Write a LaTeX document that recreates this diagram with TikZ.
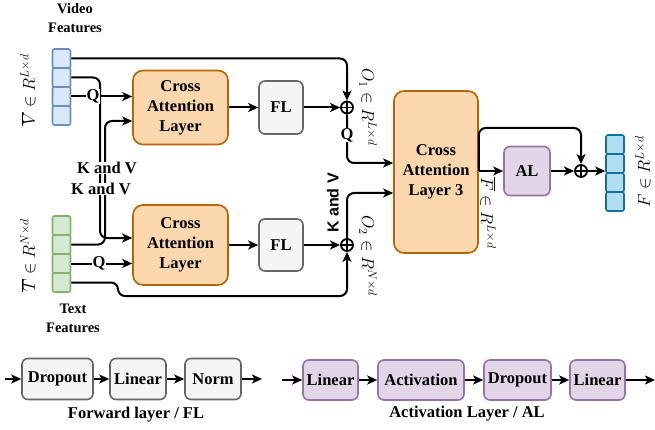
\documentclass[tikz,border=0pt]{standalone}
\usepackage{fontspec}
\setmainfont{Liberation Serif}
\newfontfamily\sanslabel{Liberation Sans}
\usetikzlibrary{arrows.meta,calc}

\definecolor{orfill}{HTML}{FAD7AC}
\definecolor{ordraw}{HTML}{B46504}
\definecolor{grfill}{HTML}{F5F5F5}
\definecolor{grdraw}{HTML}{666666}
\definecolor{pufill}{HTML}{E1D5E7}
\definecolor{pudraw}{HTML}{9673A6}
\definecolor{blfill}{HTML}{DAE8FC}
\definecolor{bldraw}{HTML}{6C8EBF}
\definecolor{gnfill}{HTML}{D5E8D4}
\definecolor{gndraw}{HTML}{82B366}
\definecolor{cyfill}{HTML}{B1DDF0}
\definecolor{cydraw}{HTML}{10739E}

\tikzset{
  box/.style={rectangle, rounded corners=6pt, line width=1.6pt, align=center,
    inner sep=0pt, font=\fontsize{16.5}{20}\selectfont\bfseries},
  cabox/.style={box, fill=orfill, draw=ordraw, rounded corners=10pt},
  flbox/.style={box, fill=grfill, draw=grdraw},
  albox/.style={box, fill=pufill, draw=pudraw},
  cell/.style={rectangle, rounded corners=2pt, line width=1.6pt,
    minimum width=18pt, minimum height=19pt, inner sep=0pt},
  vcell/.style={cell, fill=blfill, draw=bldraw},
  tcell/.style={cell, fill=gnfill, draw=gndraw},
  fcell/.style={cell, fill=cyfill, draw=cydraw},
  arr/.style={line width=2pt, rounded corners=7pt,
    -{Stealth[length=10pt,width=9pt,inset=2.5pt]}},
  sumnode/.style={circle, draw, line width=1.8pt, minimum size=12pt,
    inner sep=0pt, fill=white,
    path picture={\draw[line width=1.5pt]
      (path picture bounding box.north) -- (path picture bounding box.south)
      (path picture bounding box.west) -- (path picture bounding box.east);}},
  tag/.style={font=\fontsize{16.5}{20}\selectfont\bfseries, fill=white,
    inner sep=0.5pt},
  title/.style={font=\fontsize{14.5}{19}\selectfont\bfseries, align=center},
  mathlbl/.style={font=\fontsize{18}{20}\selectfont, inner sep=0pt},
}

\begin{document}
\begin{tikzpicture}[x=1pt,y=-1pt]
\useasboundingbox (0,0) rectangle (655,430);

% input feature vectors
\foreach \i/\y in {1/58.5,2/77.5,3/96.5,4/115.5}
  \node[vcell] (v\i) at (61.5,\y) {};
\foreach \i/\y in {1/225.5,2/244.5,3/263.5,4/282.5}
  \node[tcell] (t\i) at (61.5,\y) {};
\node[title] (vtitle) at (75,18) {Video\\Features};
\node[title] (ttitle) at (73,318) {Text\\Features};
\node[mathlbl, rotate=90] (vlbl) at (28,90) {$\overline{V} \in R^{L\times d}$};
\node[mathlbl, rotate=90] (tlbl) at (28,255) {$\overline{T} \in R^{N\times d}$};

% cross attention branches
\node[cabox, minimum width=95pt, minimum height=74pt] (catop) at (180.5,107.5)
  {Cross\\Attention\\Layer};
\node[cabox, minimum width=95pt, minimum height=80pt] (cabot) at (180.5,245)
  {Cross\\Attention\\Layer};
\node[flbox, minimum width=44pt, minimum height=53pt] (fl1) at (281,107.5) {FL};
\node[flbox, minimum width=44pt, minimum height=52pt] (fl2) at (281,245) {FL};
\node[sumnode] (s1) at (347,107.5) {};
\node[sumnode] (s2) at (347,245) {};

% third cross attention and activation stage
\node[cabox, minimum width=84pt, minimum height=162pt] (ca3) at (436,172)
  {Cross\\Attention\\Layer 3};
\node[albox, minimum width=46pt, minimum height=49pt] (al) at (527,171) {AL};
\node[sumnode] (s3) at (581,171) {};
\foreach \i/\y in {1/144.5,2/163.5,3/182.5,4/201.5}
  \node[fcell] (f\i) at (615,\y) {};

\node[mathlbl, rotate=-90] (o1lbl) at (368,107) {$O_1 \in R^{L\times d}$};
\node[mathlbl, rotate=-90] (o2lbl) at (368,256) {$O_2 \in R^{N\times d}$};
\node[mathlbl, rotate=-90] (fblbl) at (488,213) {$\overline{F} \in R^{L\times d}$};
\node[mathlbl, rotate=90] (flbl) at (643,172) {$F \in R^{L\times d}$};
\node[rotate=90, font=\sanslabel\bfseries\fontsize{16}{19}\selectfont,
  inner sep=0pt] (kv3lbl) at (333,203) {K and V};

% routing points
\coordinate (vbend) at (100,238);
\coordinate (tbend) at (105,121);
\coordinate (tlow) at (118,296);
\coordinate (q3) at (347,163);
\coordinate (kv3) at (347,193);
\coordinate (ftop) at (480,128);
\coordinate (fout) at (ca3.east |- al.west);

% video / text connections
\draw[arr] (v1.east) -| (s1.north);
\draw[arr] (v2.east) -| (vbend) -- (vbend -| cabot.west);
\draw[arr] (t2.east) -| (tbend) -- (tbend -| catop.west);
\draw[arr] (v3.east) -- (v3.east -| catop.west);
\node[tag] (qv) at (93,96.5) {Q};
\draw[arr] (t3.east) -- (t3.east -| cabot.west);
\node[tag] (qt) at (99,263.5) {Q};
\draw[arr] (t4.east) -| (tlow) -| (s2.south);
\node[tag] (kva) at (107,168) {K and V};
\node[tag] (kvb) at (101,189) {K and V};

% branch outputs
\draw[arr] (catop) -- (fl1);
\draw[arr] (fl1) -- (s1);
\draw[arr] (cabot) -- (fl2);
\draw[arr] (fl2) -- (s2);
\draw[arr] (s1.south) -- (q3) -- (q3 -| ca3.west);
\node[tag] (q3lbl) at (347,135) {Q};
\draw[arr] (s2.north) -- (kv3) -- (kv3 -| ca3.west);

% output stage
\draw[arr] (fout) -- (al.west);
\draw[arr] (fout) |- (s3.north |- ftop) -- (s3.north);
\draw[arr] (al) -- (s3);
\draw[arr] (s3) -- (s3 -| f2.west);

% legend: forward layer
\coordinate (flin) at (5,379);
\coordinate (flend) at (262,379);
\node[flbox, minimum width=71pt, minimum height=41pt] (d1) at (57.5,379) {Dropout};
\node[flbox, minimum width=56pt, minimum height=41pt] (l1) at (138,379) {Linear};
\node[flbox, minimum width=56pt, minimum height=41pt] (n1) at (213,379) {Norm};
\draw[arr] (flin) -- (d1);
\draw[arr] (d1) -- (l1);
\draw[arr] (l1) -- (n1);
\draw[arr] (n1) -- (flend);
\node[font=\fontsize{16.5}{20}\selectfont\bfseries] (fltitle) at (136,415)
  {Forward layer / FL};

% legend: activation layer
\coordinate (alin) at (282,380);
\coordinate (alend) at (655,380);
\node[albox, minimum width=55pt, minimum height=40pt] (a1) at (330.5,380) {Linear};
\node[albox, minimum width=86pt, minimum height=40pt] (a2) at (421,380) {Activation};
\node[albox, minimum width=67pt, minimum height=40pt] (a3) at (517.5,380) {Dropout};
\node[albox, minimum width=55pt, minimum height=40pt] (a4) at (597.5,380) {Linear};
\draw[arr] (alin) -- (a1);
\draw[arr] (a1) -- (a2);
\draw[arr] (a2) -- (a3);
\draw[arr] (a3) -- (a4);
\draw[arr] (a4) -- (alend);
\node[font=\fontsize{16.5}{20}\selectfont\bfseries] (altitle) at (467,414)
  {Activation Layer / AL};
\end{tikzpicture}
\end{document}
